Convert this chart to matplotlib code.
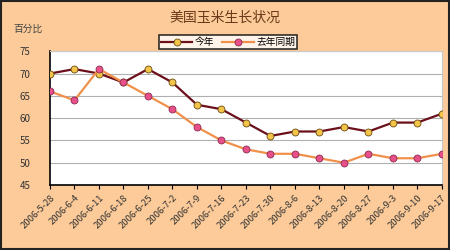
import matplotlib.pyplot as plt
from matplotlib.patches import Rectangle

plt.rcParams['font.family'] = ['Noto Sans CJK SC', 'DejaVu Sans']

dates = ['2006-5-28', '2006-6-4', '2006-6-11', '2006-6-18', '2006-6-25', '2006-7-2',
         '2006-7-9', '2006-7-16', '2006-7-23', '2006-7-30', '2006-8-6', '2006-8-13',
         '2006-8-20', '2006-8-27', '2006-9-3', '2006-9-10', '2006-9-17']
this_year = [70, 71, 70, 68, 71, 68, 63, 62, 59, 56, 57, 57, 58, 57, 59, 59, 61]
last_year = [66, 64, 71, 68, 65, 62, 58, 55, 53, 52, 52, 51, 50, 52, 51, 51, 52]

bg = '#fccb99'
fig = plt.figure(figsize=(4.5, 2.5), dpi=100, facecolor=bg)
ax = fig.add_axes([0.111, 0.26, 0.871, 0.535])
ax.set_facecolor('white')

x = range(len(dates))
ax.plot(x, this_year, color='#6b0f1a', lw=1.6, marker='o', ms=5,
        mfc='#f2c44a', mec='#6b4a10', mew=0.6, label='今年', zorder=3)
ax.plot(x, last_year, color='#f0904a', lw=1.6, marker='o', ms=5,
        mfc='#e8508a', mec='#8a2a50', mew=0.6, label='去年同期', zorder=3)

ax.set_xlim(0, len(dates) - 1)
ax.set_ylim(45, 75)
ax.set_yticks(range(45, 80, 5))
ax.set_xticks(list(x))
ax.set_xticklabels(dates, rotation=45, ha='right', rotation_mode='anchor',
                   fontsize=6.8, color='#333333')
ax.tick_params(axis='y', length=0, labelsize=7, pad=14, labelcolor='#333333')
ax.tick_params(axis='x', length=3, direction='out', pad=3)
ax.grid(axis='y', color='#b0b0b0', lw=0.8)
ax.set_axisbelow(True)
for s in ['top', 'right']:
    ax.spines[s].set_color('#c8c8c8')
for s in ['left', 'bottom']:
    ax.spines[s].set_color('black')
    ax.spines[s].set_linewidth(1.2)

fig.text(0.5, 0.93, '美国玉米生长状况', ha='center', va='center',
         fontsize=10, color='#6b3a1a')
fig.text(0.03, 0.885, '百分比', ha='left', va='center', fontsize=7, color='#444444')

leg = ax.legend(loc='lower center', bbox_to_anchor=(0.455, 1.01), ncol=2,
                fontsize=7, frameon=True, fancybox=False, edgecolor='black',
                borderpad=0.2, handlelength=3.2, columnspacing=0.8,
                handletextpad=0.3, borderaxespad=0.1)
leg.get_frame().set_linewidth(1.2)

fig.patches.append(Rectangle((0.002, 0.004), 0.996, 0.992, transform=fig.transFigure,
                             fill=False, edgecolor='#222222', lw=1.5))

fig.savefig('out.png', dpi=100, facecolor=bg)
